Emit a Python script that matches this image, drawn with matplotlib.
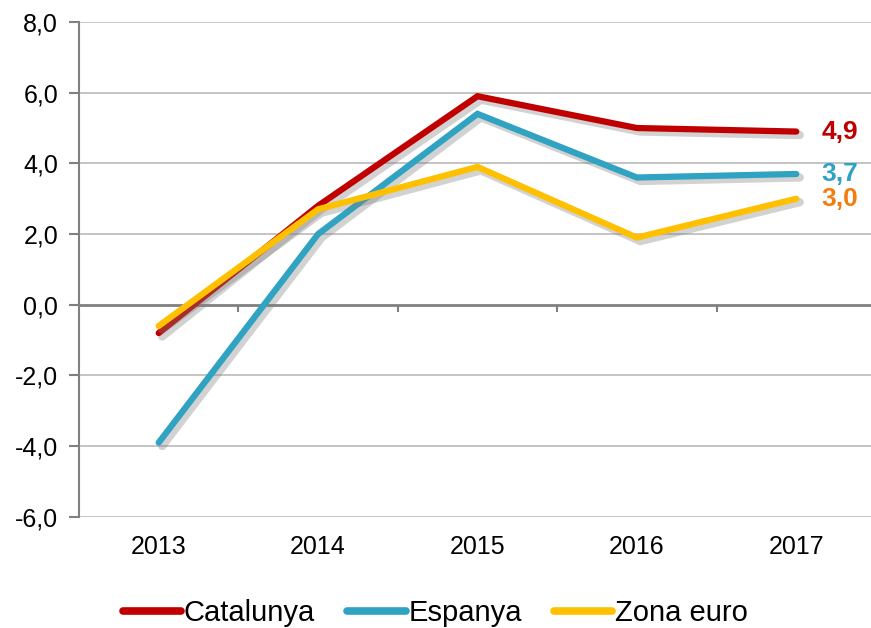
import matplotlib
matplotlib.use("Agg")
import matplotlib.pyplot as plt
import matplotlib.patheffects as pe
from matplotlib import font_manager

years = ["2013", "2014", "2015", "2016", "2017"]
catalunya = [-0.8, 2.8, 5.9, 5.0, 4.9]
espanya = [-3.9, 2.0, 5.4, 3.6, 3.7]
zona_euro = [-0.6, 2.7, 3.9, 1.9, 3.0]
series_names = ["Catalunya", "Espanya", "Zona euro"]
line_colors = ["#C00000", "#2FA3C1", "#FFC000"]
label_colors = ["#C00000", "#2FA3C1", "#F47C0E"]
yticks = [-6, -4, -2, 0, 2, 4, 6, 8]

names = {f.name for f in font_manager.fontManager.ttflist}
base_font = "Liberation Sans" if "Liberation Sans" in names else "DejaVu Sans"
legend_font = "Liberation Sans Narrow" if "Liberation Sans Narrow" in names else base_font

fig = plt.figure(figsize=(8.71, 6.28), dpi=100)
ax = fig.add_axes([0.0907, 0.177, 0.915, 0.788])

x = list(range(len(years)))
shadow = [pe.SimpleLineShadow(offset=(2.5, -2.5), shadow_color="#808080", alpha=0.35, linewidth=6), pe.Normal()]
handles = []
for vals, name, col in zip([catalunya, espanya, zona_euro], series_names, line_colors):
    h, = ax.plot(x, vals, color=col, lw=4.5, solid_capstyle="round", solid_joinstyle="miter",
                 path_effects=shadow, label=name, zorder=3)
    handles.append(h)

for vals, col in zip([catalunya, espanya, zona_euro], label_colors):
    ax.annotate(f"{vals[-1]:.1f}".replace(".", ","), xy=(x[-1], vals[-1]), xytext=(18, 0),
                textcoords="offset points", ha="left", va="center", color=col,
                fontsize=19, fontweight="bold", family=base_font)

ax.set_xlim(-0.5, len(years) - 0.5)
ax.set_ylim(-6, 8)
ax.set_yticks(yticks)
ax.set_yticklabels([f"{v:.1f}".replace(".", ",") for v in yticks], fontsize=18, family=base_font)
ax.set_xticks(x)
ax.set_xticklabels(years, fontsize=18, family=base_font)
ax.tick_params(axis="x", length=0, pad=13)
ax.tick_params(axis="y", length=7, width=1.5, color="#808080", pad=8)

for s in ["top", "right", "bottom"]:
    ax.spines[s].set_visible(False)
ax.spines["left"].set_color("#808080")
ax.spines["left"].set_linewidth(1.5)

for v in yticks:
    if v != 0:
        ax.axhline(v, color="#BFBFBF", lw=1.3, zorder=1)
ax.axhline(0, color="#808080", lw=2, zorder=2)
bounds = [i + 0.5 for i in x[:-1]]
ax.vlines(bounds, -0.2, 0, color="#808080", lw=1.5, zorder=2)

leg = fig.legend(handles=handles, loc="center", bbox_to_anchor=(0.5, 1 - 613 / 628), ncol=3,
                 frameon=False, handlelength=2.0, columnspacing=1.1, handletextpad=0.1,
                 borderpad=0, prop={"family": legend_font, "size": 21})
for lh in leg.get_lines():
    lh.set_path_effects([])
    lh.set_linewidth(5.5)
    lh.set_solid_capstyle("round")

fig.savefig("out.png", dpi=100)
